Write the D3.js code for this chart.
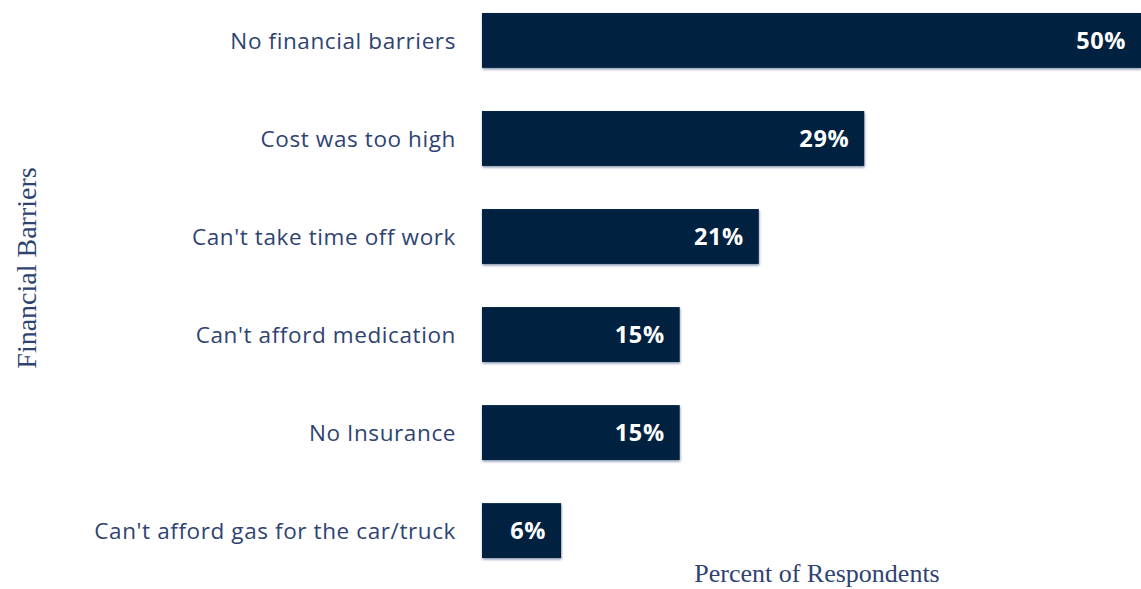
<!DOCTYPE html>
<html>
<head>
<meta charset="utf-8">
<script src="https://cdn.jsdelivr.net/npm/d3@7"></script>
<style>
  html, body { margin: 0; padding: 0; background: #ffffff; }
  svg { display: block; }
</style>
</head>
<body>
<svg id="chart" width="1141" height="589"></svg>
<script>
// Survey: financial barriers to care, percent of respondents
const categories = [
  "No financial barriers",
  "Cost was too high",
  "Can't take time off work",
  "Can't afford medication",
  "No Insurance",
  "Can't afford gas for the car/truck"
];
const values = [50, 29, 21, 15, 15, 6];
const valueLabels = ["50%", "29%", "21%", "15%", "15%", "6%"];

const data = categories.map((c, i) => ({ category: c, value: values[i], label: valueLabels[i] }));

const W = 1141, H = 589;
const svg = d3.select("#chart");

const barColor = "#00233f";
const textColor = "#2f4373";
const sans = "'Open Sans', Lato, sans-serif";
const serif = "'Liberation Serif', 'DejaVu Serif', serif";

const x = d3.scaleLinear().domain([0, 50]).range([482, 1141]);
const y = d3.scaleBand()
  .domain(categories)
  .range([13, 558])
  .paddingInner(0.44)
  .paddingOuter(0);

// subtle drop shadow under each bar
const defs = svg.append("defs");
const f = defs.append("filter").attr("id", "shadow")
  .attr("x", "-2%").attr("y", "-10%").attr("width", "104%").attr("height", "130%");
f.append("feDropShadow").attr("dx", 0.5).attr("dy", 1.5).attr("stdDeviation", 0.8)
  .attr("flood-color", "#1d3a6b").attr("flood-opacity", 0.55);

svg.append("g").selectAll("rect")
  .data(data)
  .join("rect")
  .attr("x", x(0))
  .attr("y", d => y(d.category))
  .attr("width", d => x(d.value) - x(0))
  .attr("height", y.bandwidth())
  .attr("fill", barColor)
  .attr("filter", "url(#shadow)");

// value labels inside bar ends
svg.append("g").selectAll("text")
  .data(data)
  .join("text")
  .attr("x", d => x(d.value) - 15)
  .attr("y", d => y(d.category) + y.bandwidth() / 2)
  .attr("dy", "0.36em")
  .attr("text-anchor", "end")
  .attr("font-family", sans)
  .attr("font-weight", 700)
  .attr("font-size", 23.5)
  .attr("letter-spacing", 0.6)
  .attr("fill", "#ffffff")
  .text(d => d.label);

// category axis (labels only)
const yAxis = d3.axisLeft(y).tickSize(0).tickPadding(0);
const gy = svg.append("g").attr("transform", "translate(456,0)").call(yAxis);
gy.select(".domain").remove();
gy.selectAll("text")
  .attr("font-family", sans)
  .attr("font-size", 22.5)
  .attr("letter-spacing", 0.6)
  .attr("fill", textColor)
  .attr("dy", "0.36em");

// axis titles
svg.append("text")
  .attr("x", 817)
  .attr("y", 582)
  .attr("text-anchor", "middle")
  .attr("font-family", serif)
  .attr("font-size", 26)
  .attr("fill", textColor)
  .text("Percent of Respondents");

svg.append("text")
  .attr("transform", "translate(36,268) rotate(-90)")
  .attr("text-anchor", "middle")
  .attr("font-family", serif)
  .attr("font-size", 28)
  .attr("fill", textColor)
  .text("Financial Barriers");
</script>
</body>
</html>
